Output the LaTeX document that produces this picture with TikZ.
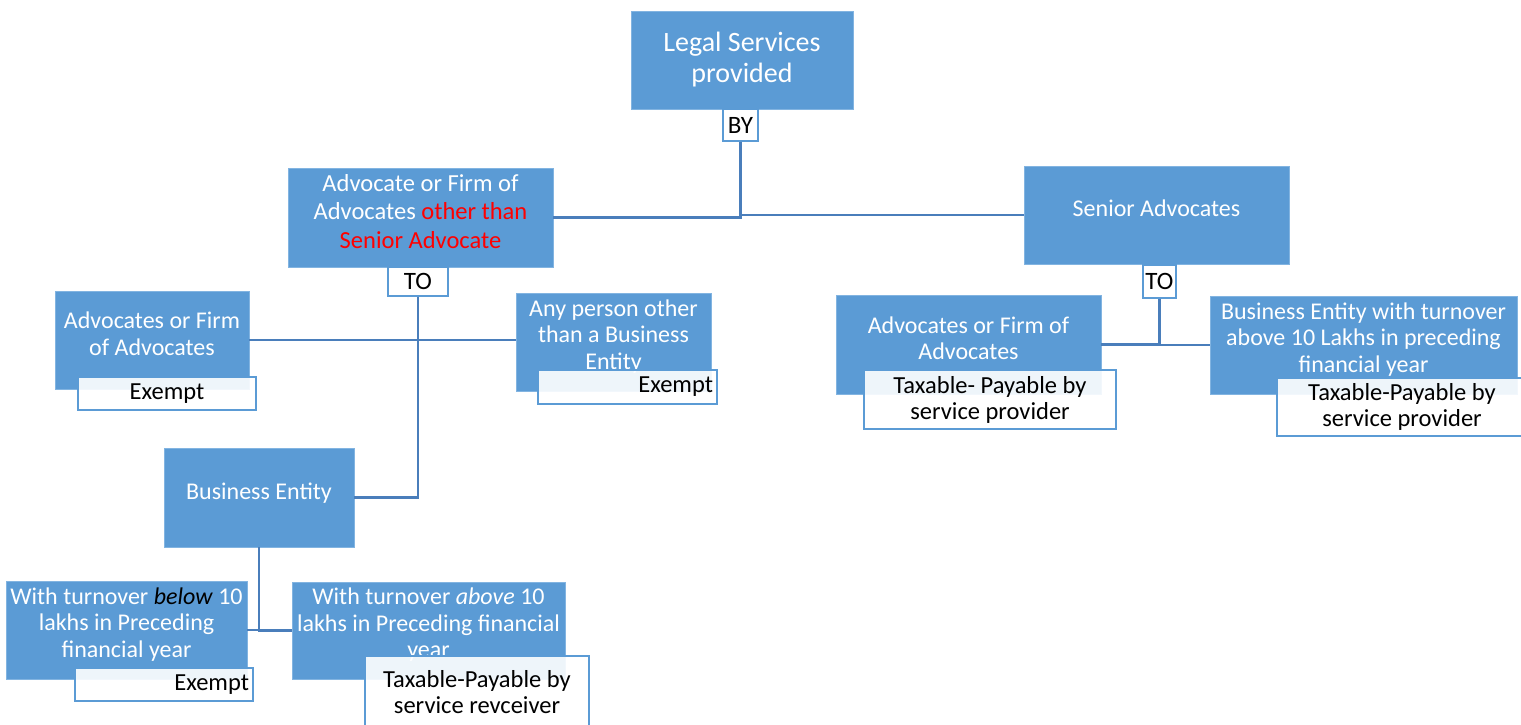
\documentclass[tikz,border=0pt]{standalone}
\usepackage{fontspec}
\setmainfont{Carlito}
\usetikzlibrary{positioning}

\definecolor{boxblue}{RGB}{91,155,213}
\definecolor{boxedge}{RGB}{130,180,225}
\definecolor{linkblue}{RGB}{74,126,187}

\tikzset{
    item/.style={draw=boxedge, fill=boxblue, text=white, align=center,
        font=\fontsize{24}{26.5}\selectfont, inner sep=2pt, text depth=13pt},
    tag/.style={draw=boxblue, fill=white, text=black, line width=1.5pt,
        font=\fontsize{25}{28}\selectfont, inner sep=0pt},
    verdict/.style={draw=boxblue, line width=1.5pt, fill=white, fill opacity=0.9,
        text opacity=1, text=black, font=\fontsize{24.5}{26}\selectfont, inner sep=4pt},
    link/.style={draw=linkblue, line width=2.4pt},
}

\begin{document}
\begin{tikzpicture}[x=1pt,y=-1pt]
    \useasboundingbox (0,0) rectangle (1521,725);

    % top
    \node[item, minimum width=222pt, minimum height=98pt, font=\fontsize{28}{31}\selectfont, text depth=6pt] (legal) at (742,60) {Legal Services\\provided};
    \node[tag, minimum width=35pt, minimum height=32pt] (by) at (740.5,125) {BY};

    % advocates other than senior advocate
    \node[item, minimum width=265pt, minimum height=99pt, font=\fontsize{24.5}{28.5}\selectfont] (advother) at (420.5,217.5) {Advocate or Firm of\\Advocates \textcolor{red}{other than}\\\textcolor{red}{Senior Advocate}};
    \node[tag, minimum width=60pt, minimum height=29pt] (toleft) at (418,281.5) {TO};

    \node[item, minimum width=194pt, minimum height=98pt] (advfirm) at (152,340) {Advocates or Firm\\of Advocates};
    \node[verdict, minimum width=178pt, minimum height=33pt, align=center] (exemptA) at (167,393.5) {Exempt};

    \node[item, minimum width=195pt, minimum height=98pt, text depth=15pt] (anyperson) at (613.5,342) {Any person other\\than a Business\\Entity};
    \node[verdict, text width=171pt, minimum height=34pt, align=right] (exemptB) at (627.5,387) {Exempt};

    \node[item, minimum width=190pt, minimum height=99pt] (business) at (259,497.5) {Business Entity};

    \node[item, minimum width=241pt, minimum height=98pt, text depth=15pt] (below) at (126.5,630) {With turnover \textcolor{black}{\textit{below}} 10\\lakhs in Preceding\\financial year};
    \node[verdict, text width=170pt, minimum height=33pt, align=right] (exemptC) at (164,684.5) {Exempt};

    \node[item, minimum width=273pt, minimum height=97pt, text depth=15pt] (above) at (428.5,630.5) {With turnover \textit{above} 10\\lakhs in Preceding financial\\year};
    \node[verdict, minimum width=224pt, minimum height=72pt, align=center] (taxrecv) at (477,692) {Taxable-Payable by\\service revceiver};

    % senior advocates
    \node[item, minimum width=265pt, minimum height=98pt] (senior) at (1156.5,215) {Senior Advocates};
    \node[tag, minimum width=33pt, minimum height=33pt] (toright) at (1159.5,281.5) {TO};

    \node[item, minimum width=265pt, minimum height=99pt] (advfirmR) at (968.5,344.5) {Advocates or Firm of\\Advocates};
    \node[verdict, minimum width=252pt, minimum height=59pt, align=center] (taxprovA) at (990,399.5) {Taxable- Payable by\\service provider};

    \node[item, minimum width=307pt, minimum height=98pt, text depth=15pt] (bigbusiness) at (1363.5,345) {Business Entity with turnover\\above 10 Lakhs in preceding\\financial year};
    \node[verdict, minimum width=250pt, minimum height=58pt, align=center] (taxprovB) at (1402,407) {Taxable-Payable by\\service provider};

    % connectors
    \draw[link] (by.south) |- (advother.east);
    \draw[link] (by.south) |- (senior.west);
    \draw[link] (toleft.south) |- (business.east);
    \draw[link] (advfirm.east) -- (advfirm.east -| anyperson.west);
    \draw[link] (business.south) |- (below.east);
    \draw[link] (business.south) |- (above.west);
    \draw[link] (toright.south) |- (advfirmR.east);
    \draw[link] (toright.south) |- (bigbusiness.west);
\end{tikzpicture}
\end{document}
